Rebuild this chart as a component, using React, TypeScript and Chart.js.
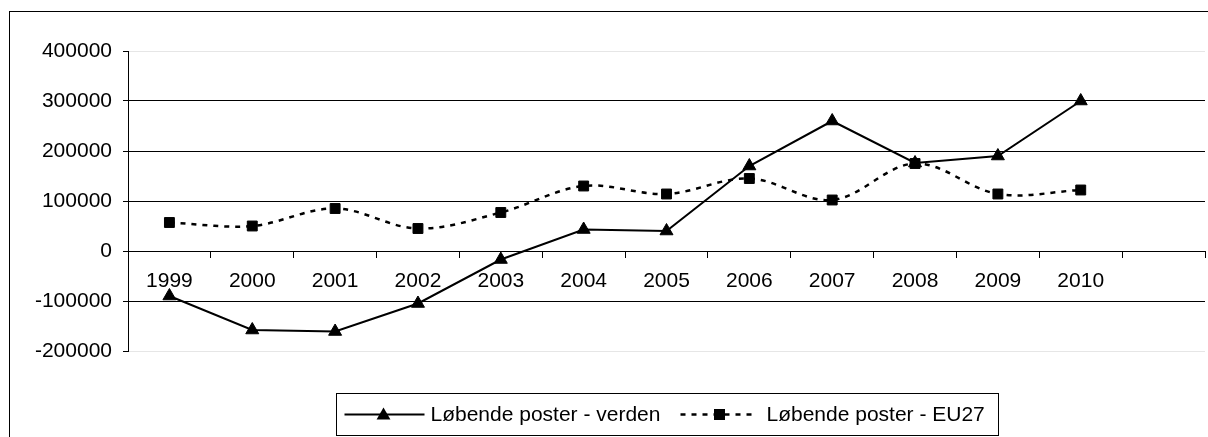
import React, { useEffect, useRef } from 'react';
import { Chart, registerables } from 'chart.js';

Chart.register(...registerables);

const years = ['1999', '2000', '2001', '2002', '2003', '2004', '2005', '2006', '2007', '2008', '2009', '2010', ''];
const verden = [-90000, -158000, -161000, -105000, -17000, 43000, 40000, 170000, 260000, 176000, 190000, 300000];
const eu27 = [57000, 50000, 85000, 45000, 77000, 130000, 114000, 145000, 102000, 175000, 114000, 122000];
const labelVerden = 'Løbende poster - verden';
const labelEu27 = 'Løbende poster - EU27';
const yMin = -200000;
const yMax = 400000;
const yStep = 100000;

const FONT = "'Liberation Sans', Arial, sans-serif";

function drawTriangle(ctx: CanvasRenderingContext2D, x: number, y: number, r: number) {
  ctx.beginPath();
  for (let i = 0; i < 3; i++) {
    const a = -Math.PI / 2 + (i * 2 * Math.PI) / 3;
    const px = x + Math.cos(a) * r;
    const py = y + Math.sin(a) * r;
    if (i === 0) ctx.moveTo(px, py);
    else ctx.lineTo(px, py);
  }
  ctx.closePath();
  ctx.fill();
}

export default function App() {
  const ref = useRef<HTMLCanvasElement>(null);

  useEffect(() => {
    if (!ref.current) return;
    Chart.defaults.font.family = FONT;

    const boxLegend = {
      id: 'boxLegend',
      afterDraw(chart: any) {
        const ctx: CanvasRenderingContext2D = chart.ctx;
        const ca = chart.chartArea;
        const bw = 662;
        const bh = 42;
        const bx = Math.round((ca.left + ca.right) / 2 - bw / 2) + 0.5;
        const by = Math.round(ca.bottom + 42) + 0.5;
        ctx.save();
        ctx.strokeStyle = '#000';
        ctx.lineWidth = 1;
        ctx.setLineDash([]);
        ctx.strokeRect(bx, by, bw, bh);
        const cy = by + bh / 2;
        // item 1
        ctx.lineWidth = 2;
        ctx.beginPath();
        ctx.moveTo(bx + 8, cy);
        ctx.lineTo(bx + 88, cy);
        ctx.stroke();
        ctx.fillStyle = '#000';
        drawTriangle(ctx, bx + 47, cy + 1, 8);
        // item 2
        ctx.lineWidth = 2.5;
        ctx.setLineDash([5, 6]);
        ctx.beginPath();
        ctx.moveTo(bx + 344, cy);
        ctx.lineTo(bx + 420, cy);
        ctx.stroke();
        ctx.setLineDash([]);
        ctx.fillRect(bx + 383 - 5.5, cy - 5.5, 11, 11);
        // texts
        ctx.font = `21px ${FONT}`;
        ctx.textAlign = 'left';
        ctx.textBaseline = 'middle';
        ctx.fillStyle = '#000';
        ctx.fillText(labelVerden, bx + 94, cy + 1);
        ctx.fillText(labelEu27, bx + 430, cy + 1);
        ctx.restore();
      },
    };

    const chart = new Chart(ref.current, {
      type: 'line',
      data: {
        labels: years,
        datasets: [
          {
            label: labelVerden,
            data: verden,
            borderColor: '#000',
            backgroundColor: '#000',
            borderWidth: 2,
            pointStyle: 'triangle',
            pointRadius: 7.5,
            pointBorderWidth: 1,
            pointBackgroundColor: '#000',
            pointBorderColor: '#000',
            tension: 0,
            order: 1,
          },
          {
            label: labelEu27,
            data: eu27,
            borderColor: '#000',
            backgroundColor: '#000',
            borderWidth: 2.5,
            borderDash: [5, 6],
            pointStyle: 'rect',
            pointRadius: 7,
            pointBorderWidth: 1,
            pointBackgroundColor: '#000',
            pointBorderColor: '#000',
            tension: 0.35,
            order: 0,
          },
        ],
      },
      options: {
        responsive: false,
        animation: false,
        maintainAspectRatio: false,
        layout: { padding: { left: 0, right: 25, top: 39, bottom: 91 } },
        plugins: {
          legend: { display: false },
          tooltip: { enabled: false },
        },
        scales: {
          x: {
            type: 'category',
            position: { y: 0 },
            offset: true,
            grid: {
              offset: true,
              drawOnChartArea: false,
              drawTicks: true,
              tickLength: 6,
              tickColor: '#000',
              color: '#000',
            },
            border: { display: true, color: '#000', width: 1 },
            ticks: {
              color: '#000',
              font: { size: 21, family: FONT },
              padding: 12,
              maxRotation: 0,
              autoSkip: false,
            },
          },
          y: {
            min: yMin,
            max: yMax,
            afterFit: (scale: any) => {
              scale.width = 118;
            },
            grid: {
              color: (c: any) => {
                const v = c.tick ? c.tick.value : 0;
                return v === yMin || v === yMax ? '#e6e6e6' : '#000';
              },
              tickColor: '#000',
              tickLength: 5,
              drawTicks: true,
            },
            border: { display: true, color: '#000', width: 1 },
            ticks: {
              stepSize: yStep,
              color: '#000',
              font: { size: 21, family: FONT },
              padding: 11,
              callback: (v: any) => String(v),
            },
          },
        },
      },
      plugins: [boxLegend],
    });
    return () => chart.destroy();
  }, []);

  return (
    <div style={{ position: 'fixed', left: 0, top: 0, width: 1208, height: 437, overflow: 'hidden', background: '#fff' }}>
      <div style={{ position: 'absolute', left: 9, top: 11, width: 1230, height: 440, border: '1px solid #000', background: '#fff' }}>
        <canvas ref={ref} width={1220} height={430} style={{ display: 'block', width: 1220, height: 430 }} />
      </div>
    </div>
  );
}
